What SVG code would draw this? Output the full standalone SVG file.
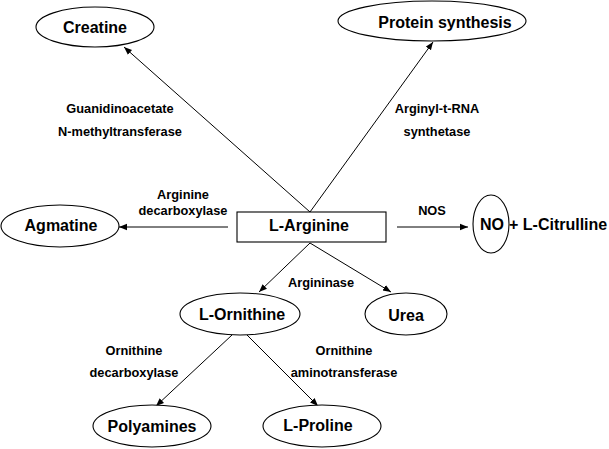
<svg xmlns="http://www.w3.org/2000/svg" width="609" height="449" viewBox="0 0 609 449">
<style>
.n{font-family:"Liberation Sans",Arial,sans-serif;font-weight:bold;font-size:16px;fill:#000;text-anchor:middle}
.l{font-family:"Liberation Sans",Arial,sans-serif;font-weight:bold;font-size:12.8px;fill:#000;text-anchor:middle}
.s{fill:#fff;stroke:#000;stroke-width:1.1}
.c{stroke:#000;stroke-width:1;fill:none;marker-end:url(#a)}
</style>
<defs>
<marker id="a" viewBox="0 0 10 10" refX="10" refY="5" markerWidth="8" markerHeight="8" markerUnits="userSpaceOnUse" orient="auto">
<path d="M0,1 L10,5 L0,9 Z" fill="#000"/>
</marker>
</defs>
<rect width="609" height="449" fill="#fff"/>
<g id="connectors">
<line class="c" x1="310" y1="212" x2="124" y2="47"/>
<line class="c" x1="310" y1="212" x2="433" y2="42"/>
<line class="c" x1="228" y1="227" x2="119" y2="227"/>
<line class="c" x1="397" y1="227" x2="468" y2="227"/>
<line class="c" x1="310" y1="243" x2="259" y2="292"/>
<line class="c" x1="310" y1="243" x2="391" y2="292"/>
<line class="c" x1="232" y1="335" x2="156" y2="406"/>
<line class="c" x1="247" y1="335" x2="318" y2="406"/>
<text class="l" x="120" y="113">Guanidinoacetate</text>
<text class="l" x="120" y="136">N-methyltransferase</text>
<text class="l" x="437" y="113">Arginyl-t-RNA</text>
<text class="l" x="437" y="136">synthetase</text>
<text class="l" x="183" y="199">Arginine</text>
<text class="l" x="183" y="215">decarboxylase</text>
<text class="l" x="432" y="215">NOS</text>
<text class="l" x="321" y="287">Argininase</text>
<text class="l" x="134" y="355">Ornithine</text>
<text class="l" x="134" y="377">decarboxylase</text>
<text class="l" x="344" y="355">Ornithine</text>
<text class="l" x="344" y="377">aminotransferase</text>
</g>
<g id="creatine"><ellipse class="s" cx="95" cy="27" rx="59" ry="20"/><text class="n" x="95" y="33">Creatine</text></g>
<g id="protein"><ellipse class="s" cx="432" cy="21" rx="94" ry="20"/><text class="n" x="445" y="28">Protein synthesis</text></g>
<g id="arginine"><rect class="s" x="237" y="212" width="149" height="30"/><text class="n" x="309" y="231">L-Arginine</text></g>
<g id="agmatine"><ellipse class="s" cx="60" cy="226" rx="59" ry="21"/><text class="n" x="61" y="231">Agmatine</text></g>
<g id="no"><ellipse class="s" cx="491" cy="224" rx="18" ry="29"/><text class="n" x="492" y="230">NO</text><text class="n" x="509" y="230" style="text-anchor:start">+ L-Citrulline</text></g>
<g id="ornithine"><ellipse class="s" cx="240" cy="314" rx="60" ry="21"/><text class="n" x="242" y="320">L-Ornithine</text></g>
<g id="urea"><ellipse class="s" cx="406" cy="314" rx="41" ry="21"/><text class="n" x="406" y="321">Urea</text></g>
<g id="polyamines"><ellipse class="s" cx="152" cy="426" rx="59" ry="21"/><text class="n" x="152" y="432">Polyamines</text></g>
<g id="proline"><ellipse class="s" cx="322" cy="426" rx="59" ry="21"/><text class="n" x="318" y="431">L-Proline</text></g>
</svg>
